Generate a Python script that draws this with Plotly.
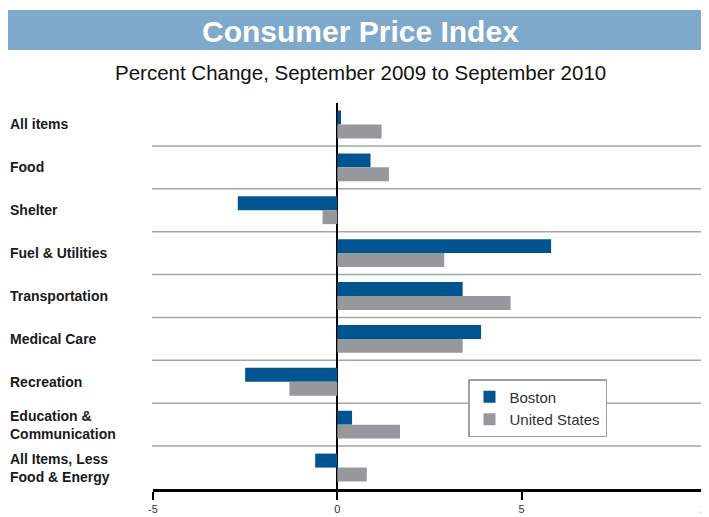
import plotly.graph_objects as go

categories = ["All items", "Food", "Shelter", "Fuel & Utilities", "Transportation",
              "Medical Care", "Recreation", "Education &<br>Communication",
              "All Items, Less<br>Food & Energy"]
boston = [0.1, 0.9, -2.7, 5.8, 3.4, 3.9, -2.5, 0.4, -0.6]
us = [1.2, 1.4, -0.4, 2.9, 4.7, 3.4, -1.3, 1.7, 0.8]
x_ticks = [-5, 0, 5, 10]

# page has an 8px body margin; work in page pixels and convert
OFF = 8
W, H = 709 - OFF, 517 - OFF
PL, PR, PT, PB = 153, 706, 103, 489  # plot area in page pixels
L, R, T, B = PL - OFF, W - (PR - OFF), PT - OFF, H - (PB - OFF)
PW, PH = PR - PL, PB - PT

def px(x):
    return (x - PL) / PW

def py(y):
    return (PB - y) / PH

fig = go.Figure()
fig.add_trace(go.Bar(y=categories, x=boston, name="Boston", orientation="h",
                     marker=dict(color="#00548F", line=dict(width=0))))
fig.add_trace(go.Bar(y=categories, x=us, name="United States", orientation="h",
                     marker=dict(color="#97989C", line=dict(width=0))))

shapes = [dict(type="rect", xref="paper", yref="paper", x0=px(8), x1=px(709),
               y0=py(50), y1=py(10), fillcolor="#7EA9CA", line=dict(width=0), layer="below")]
for i in range(len(categories) - 1):
    shapes.append(dict(type="line", xref="paper", yref="y", x0=px(152), x1=px(709),
                       y0=i + 0.5, y1=i + 0.5, line=dict(color="#A5A5A5", width=1.5),
                       layer="below"))

annotations = [
    dict(text="<b>Consumer Price Index</b>", xref="paper", yref="paper", x=px(360), y=py(31),
         showarrow=False, font=dict(size=30, color="white", family="Liberation Sans"),
         xanchor="center", yanchor="middle"),
    dict(text="Percent Change, September 2009 to September 2010", xref="paper", yref="paper",
         x=px(360), y=py(73), showarrow=False,
         font=dict(size=20.5, color="#111", family="Liberation Sans"),
         xanchor="center", yanchor="middle"),
]
for c in categories:
    annotations.append(dict(text=c, xref="paper", yref="y", x=px(8), y=c, showarrow=False,
                            xanchor="left", yanchor="middle", align="left",
                            font=dict(size=14, color="#1a1a1a", family="Liberation Sans",
                                      weight=600)))

fig.update_layout(
    width=W, height=H,
    margin=dict(l=L, r=R, t=T, b=B, autoexpand=False),
    paper_bgcolor="white", plot_bgcolor="white",
    barmode="group", bargap=0.35, bargroupgap=0,
    shapes=shapes, annotations=annotations,
    font=dict(family="Liberation Sans", color="#222"),
    legend=dict(x=px(468), y=py(379), xanchor="left", yanchor="top",
                bgcolor="white", bordercolor="#A0A0A0", borderwidth=1.5,
                font=dict(size=15, color="#333", family="Liberation Sans"),
                itemsizing="constant", tracegroupgap=0),
    showlegend=True,
)
fig.update_xaxes(range=[-5, 10.001], tickvals=x_ticks, ticktext=[str(v) for v in x_ticks],
                 automargin=False, ticklabeloverflow="allow",
                 showgrid=False, zeroline=True, zerolinecolor="black", zerolinewidth=2,
                 showline=True, linecolor="black", linewidth=3,
                 ticks="outside", ticklen=8, tickwidth=2, tickcolor="black",
                 tickfont=dict(size=11, color="#333"))
fig.update_yaxes(autorange="reversed", showticklabels=False, showgrid=False,
                 automargin=False,
                 zeroline=False, showline=False, ticks="")

fig.write_html("out.html")
